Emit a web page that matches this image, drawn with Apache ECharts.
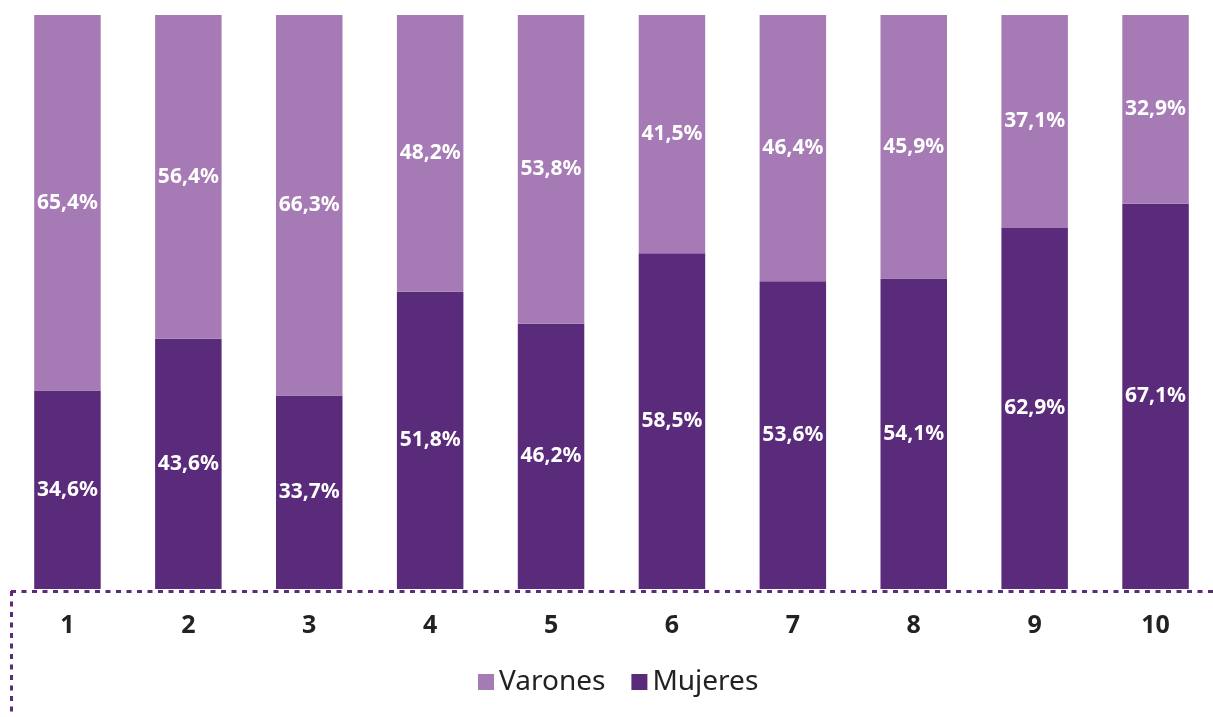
<!DOCTYPE html>
<html><head><meta charset="utf-8">
<script src="https://cdn.jsdelivr.net/npm/echarts@6/dist/echarts.min.js"></script>
<style>html,body{margin:0;padding:0;background:#fff;overflow:hidden}#c{width:1220px;height:717px}</style>
</head><body><div id="c"></div>
<script>
const categories = ['1','2','3','4','5','6','7','8','9','10'];
const mujeres = [34.6,43.6,33.7,51.8,46.2,58.5,53.6,54.1,62.9,67.1];
const varones = [65.4,56.4,66.3,48.2,53.8,41.5,46.4,45.9,37.1,32.9];
const fmt = p => p.value.toFixed(1).replace('.', ',') + '%';
const FONT = '"Noto Sans", sans-serif';
const label = {show:true, position:'inside', color:'#fff', fontWeight:'bold', fontSize:21, fontFamily:FONT, formatter:fmt};
const chart = echarts.init(document.getElementById('c'));
chart.setOption({
  animation:false,
  grid:{left:7, top:15, width:1209, height:574},
  xAxis:{type:'category', data:categories, axisLine:{show:false}, axisTick:{show:false},
    axisLabel:{margin:24, color:'#222', fontSize:25, fontWeight:'bold', fontFamily:FONT}},
  yAxis:{type:'value', min:0, max:100, show:false},
  legend:{data:['Varones','Mujeres'], top:663, left:473, itemWidth:16, itemHeight:16, itemGap:26,
    icon:'rect', textStyle:{fontSize:28, color:'#222', fontFamily:FONT}},
  series:[
    {name:'Mujeres', type:'bar', stack:'t', data:mujeres, barWidth:'55%', itemStyle:{color:'#5a2a7b'}, label},
    {name:'Varones', type:'bar', stack:'t', data:varones, barWidth:'55%', itemStyle:{color:'#a67ab5'}, label}
  ],
  graphic:[
    {type:'line', shape:{x1:11,y1:591.5,x2:1213,y2:591.5}, style:{stroke:'#5a2a7b', lineWidth:3, lineDash:[5,5.5]}},
    {type:'line', shape:{x1:11.5,y1:591,x2:11.5,y2:717}, style:{stroke:'#5a2a7b', lineWidth:3, lineDash:[5,5.5]}}
  ]
});
</script></body></html>
